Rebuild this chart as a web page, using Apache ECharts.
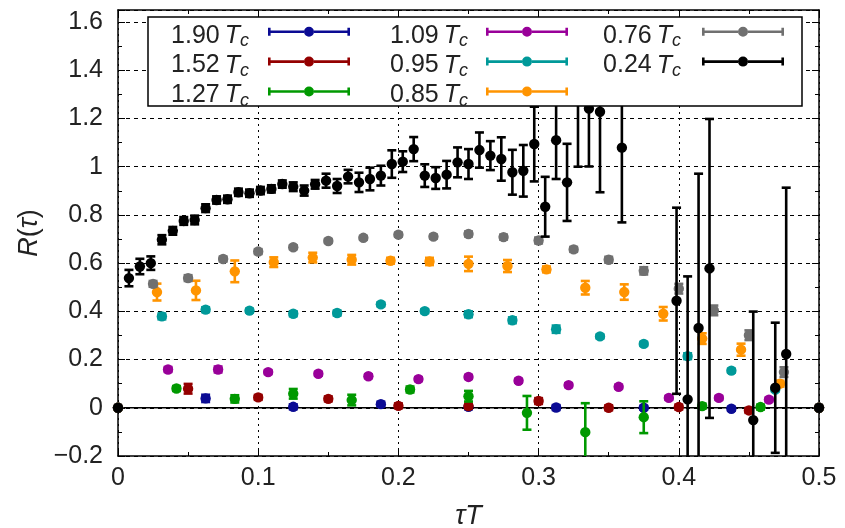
<!DOCTYPE html>
<html>
<head>
<meta charset="utf-8">
<script src="https://cdn.jsdelivr.net/npm/echarts@6/dist/echarts.min.js"></script>
<style>
  html, body { margin: 0; padding: 0; background: #fff; }
  #chart { width: 845px; height: 528px; }
</style>
</head>
<body>
<div id="chart"></div>
<script>
// R(tau) correlator ratio at several temperatures (T / Tc), with statistical errors.

// 1.90 Tc
const tau190 = [0, 0.0625, 0.125, 0.1875, 0.25, 0.3125, 0.375, 0.4375, 0.5];
const r190   = [0, 0.039, 0.004, 0.015, 0.004, 0.001, 0.000, -0.004, 0];
const e190   = [0, 0.015, 0.010, 0.010, 0.010, 0.010, 0.008, 0.008, 0];

// 1.52 Tc
const tau152 = [0, 0.05, 0.10, 0.15, 0.20, 0.25, 0.30, 0.35, 0.40, 0.45, 0.5];
const r152   = [0, 0.079, 0.043, 0.037, 0.008, 0.007, 0.028, 0.000, 0.003, -0.011, 0];
const e152   = [0, 0.020, 0.010, 0.010, 0.010, 0.010, 0.012, 0.010, 0.010, 0.010, 0];

// 1.27 Tc
const tau127 = [0, 0.0417, 0.0833, 0.125, 0.1667, 0.2083, 0.25, 0.2917, 0.3333, 0.375, 0.4167, 0.4583, 0.5];
const r127   = [0, 0.080, 0.037, 0.058, 0.032, 0.076, 0.048, -0.021, -0.101, -0.039, 0.007, 0.003, 0];
const e127   = [0, 0.010, 0.015, 0.020, 0.022, 0.012, 0.022, 0.070, 0.120, 0.066, 0.010, 0.010, 0];

// 1.09 Tc
const tau109 = [0, 0.0357, 0.0714, 0.1071, 0.1429, 0.1786, 0.2143, 0.25, 0.2857, 0.3214, 0.3571, 0.3929, 0.4286, 0.4643, 0.5];
const r109   = [0, 0.159, 0.159, 0.148, 0.141, 0.131, 0.119, 0.128, 0.112, 0.094, 0.087, 0.041, 0.041, 0.034, 0];
const e109   = [0, 0.010, 0.012, 0.008, 0.008, 0.008, 0.008, 0.008, 0.008, 0.008, 0.008, 0.008, 0.008, 0.008, 0];

// 0.95 Tc
const tau095 = [0, 0.0313, 0.0625, 0.0938, 0.125, 0.1563, 0.1875, 0.2188, 0.25, 0.2813, 0.3125, 0.3438, 0.375, 0.4063, 0.4375, 0.4688, 0.5];
const r095   = [0, 0.379, 0.407, 0.403, 0.390, 0.393, 0.429, 0.401, 0.388, 0.363, 0.326, 0.296, 0.265, 0.214, 0.154, 0.076, 0];
const e095   = [0, 0.012, 0.010, 0.008, 0.010, 0.010, 0.008, 0.008, 0.012, 0.012, 0.015, 0.008, 0.008, 0.012, 0.008, 0.008, 0];

// 0.85 Tc
const tau085 = [0, 0.0278, 0.0556, 0.0833, 0.1111, 0.1389, 0.1667, 0.1944, 0.2222, 0.25, 0.2778, 0.3056, 0.3333, 0.3611, 0.3889, 0.4167, 0.4444, 0.4722, 0.5];
const r085   = [0, 0.480, 0.487, 0.566, 0.604, 0.623, 0.614, 0.610, 0.607, 0.597, 0.588, 0.574, 0.498, 0.480, 0.390, 0.287, 0.241, 0.100, 0];
const e085   = [0, 0.035, 0.040, 0.045, 0.020, 0.020, 0.020, 0.012, 0.015, 0.030, 0.025, 0.012, 0.028, 0.032, 0.028, 0.022, 0.025, 0.012, 0];

// 0.76 Tc
const tau076 = [0, 0.025, 0.05, 0.075, 0.10, 0.125, 0.15, 0.175, 0.20, 0.225, 0.25, 0.275, 0.30, 0.325, 0.35, 0.375, 0.40, 0.425, 0.45, 0.475, 0.5];
const r076   = [0, 0.514, 0.538, 0.617, 0.648, 0.666, 0.692, 0.705, 0.718, 0.710, 0.721, 0.708, 0.694, 0.657, 0.614, 0.568, 0.494, 0.404, 0.301, 0.148, 0];
const e076   = [0, 0.012, 0.012, 0.010, 0.010, 0.008, 0.008, 0.008, 0.008, 0.008, 0.010, 0.010, 0.012, 0.010, 0.012, 0.015, 0.020, 0.020, 0.020, 0.020, 0];

// 0.24 Tc
const tau024 = [0, 0.0078, 0.0156, 0.0234, 0.0313, 0.0391, 0.0469, 0.0547, 0.0625, 0.0703, 0.0781,
                0.0859, 0.0938, 0.1016, 0.1094, 0.1172, 0.1250, 0.1328, 0.1406, 0.1484, 0.1563,
                0.1641, 0.1719, 0.1797, 0.1875, 0.1953, 0.2031, 0.2109, 0.2188, 0.2266, 0.2344,
                0.2422, 0.2500, 0.2578, 0.2656, 0.2734, 0.2813, 0.2891, 0.2969, 0.3047, 0.3125,
                0.3203, 0.3281, 0.3359, 0.3438, 0.3594, 0.3984, 0.4063, 0.4141, 0.4219, 0.4531,
                0.4688, 0.4766, 0.5];
const r024   = [0, 0.538, 0.586, 0.600, 0.697, 0.734, 0.775, 0.779, 0.828, 0.862, 0.865,
                0.894, 0.890, 0.901, 0.908, 0.928, 0.917, 0.901, 0.927, 0.942, 0.920,
                0.959, 0.935, 0.949, 0.963, 1.011, 1.021, 1.073, 0.963, 0.953, 0.967,
                1.018, 1.011, 1.069, 1.046, 1.032, 0.977, 0.983, 1.094, 0.834, 1.110,
                0.935, 1.300, 1.241, 1.228, 1.079, 0.444, 0.035, 0.331, 0.578, -0.051,
                0.083, 0.223, 0];
const e024   = [0, 0.034, 0.032, 0.028, 0.019, 0.016, 0.016, 0.018, 0.016, 0.015, 0.015,
                0.015, 0.015, 0.015, 0.015, 0.015, 0.018, 0.021, 0.018, 0.029, 0.029,
                0.028, 0.040, 0.047, 0.041, 0.057, 0.043, 0.050, 0.047, 0.045, 0.057,
                0.062, 0.062, 0.073, 0.060, 0.090, 0.093, 0.107, 0.155, 0.124, 0.161,
                0.160, 0.300, 0.240, 0.334, 0.310, 0.386, 0.510, 0.640, 0.620, 0.450,
                0.270, 0.690, 0];

// series names (temperature in units of Tc) and colours, in drawing order
const names  = ['1.90', '1.52', '1.27', '1.09', '0.95', '0.85', '0.76', '0.24'];
const colors = ['#0b0b94', '#940000', '#009900', '#990099', '#009999', '#ff9400', '#707070', '#000000'];
const taus   = [tau190, tau152, tau127, tau109, tau095, tau085, tau076, tau024];
const vals   = [r190, r152, r127, r109, r095, r085, r076, r024];
const errs   = [e190, e152, e127, e109, e095, e085, e076, e024];

// axis ranges
const X_MIN = 0, X_MAX = 0.5, X_STEP = 0.1;
const Y_MIN = -0.2, Y_MAX = 1.65, Y_STEP = 0.2;

const FONT = 'Liberation Sans';
const TEXT_COLOR = '#222';

// point with a vertical error bar; bars are cut at the plot frame
function makeRenderer(color) {
  return function (params, api) {
    const x = api.value(0), y = api.value(1), e = api.value(2);
    const c = api.coord([x, y]);
    const kids = [];
    const lw = 2.6, half = 4.5;
    if (e > 0) {
      const lo = Math.max(y - e, Y_MIN), hi = Math.min(y + e, Y_MAX);
      if (hi > lo) {
        const pl = api.coord([x, lo]), ph = api.coord([x, hi]);
        kids.push({ type: 'line', shape: { x1: c[0], y1: pl[1], x2: c[0], y2: ph[1] },
                    style: { stroke: color, lineWidth: lw } });
        if (y - e >= Y_MIN) {
          kids.push({ type: 'line', shape: { x1: c[0] - half, y1: pl[1], x2: c[0] + half, y2: pl[1] },
                      style: { stroke: color, lineWidth: lw } });
        }
        if (y + e <= Y_MAX) {
          kids.push({ type: 'line', shape: { x1: c[0] - half, y1: ph[1], x2: c[0] + half, y2: ph[1] },
                      style: { stroke: color, lineWidth: lw } });
        }
      }
    }
    if (y >= Y_MIN && y <= Y_MAX) {
      kids.push({ type: 'circle', shape: { cx: c[0], cy: c[1], r: 5.2 }, style: { fill: color } });
    }
    return { type: 'group', children: kids };
  };
}

const series = [{
  // R = 0 reference line
  type: 'line',
  data: [[X_MIN, 0], [X_MAX, 0]],
  symbol: 'none',
  silent: true,
  lineStyle: { color: '#000', width: 1.6 },
  z: 1
}];

names.forEach(function (name, i) {
  const data = taus[i].map(function (t, k) { return [t, vals[i][k], errs[i][k]]; });
  series.push({
    name: name,
    type: 'custom',
    renderItem: makeRenderer(colors[i]),
    data: data,
    encode: { x: 0, y: 1 },
    itemStyle: { color: colors[i] },
    color: colors[i],
    silent: true,
    z: 2 + i
  });
});

// legend layout: three columns, each with a caption block and an icon column
const legendCols = [['1.90', '1.52', '1.27'], ['1.09', '0.95', '0.85'], ['0.76', '0.24']];
const iconRight  = [350, 568, 784];     // right end of each icon column
const textRight  = [249, 468, 681];     // right end of each caption column
const rowY       = [31.7, 61.6, 91.4];  // row centres
const CAPTION_DY = 4;                   // optical centring of the captions on the icons

// legend icon: horizontal error bar with a dot (pieces kept apart so the fill stays solid)
const ICON = 'path://M0,1h2.6v8H0z M79.4,1H82v8h-2.6z M2.6,3.7H36v2.6H2.6z M46,3.7h33.4v2.6H46z ' +
             'M36,5a5,5 0 1,0 10,0a5,5 0 1,0 -10,0z';

function legendColumn(items, right) {
  return {
    data: items,
    orient: 'vertical',
    right: 845 - right,
    top: rowY[0] - 5,
    padding: 0,
    itemGap: rowY[1] - rowY[0] - 10,
    itemWidth: 82,
    itemHeight: 10,
    align: 'right',
    icon: ICON,
    selectedMode: false,
    z: 20,
    formatter: function () { return ''; },
    textStyle: { fontSize: 1, lineHeight: 1 }
  };
}

const captionRich = {
  n: { fontFamily: FONT, fontSize: 25, fill: TEXT_COLOR, lineHeight: 29 },
  t: { fontFamily: FONT, fontSize: 25, fill: TEXT_COLOR, fontStyle: 'italic', lineHeight: 29 },
  c: { fontFamily: FONT, fontSize: 18, fill: TEXT_COLOR, fontStyle: 'italic', lineHeight: 16, verticalAlign: 'bottom' }
};

const graphics = [{
  type: 'rect', z: 15, silent: true,
  shape: { x: 148, y: 17, width: 654, height: 89 },
  style: { fill: '#fff', stroke: '#000', lineWidth: 1.5 }
}];
legendCols.forEach(function (col, ci) {
  col.forEach(function (n, ri) {
    graphics.push({
      type: 'text', z: 25, silent: true,
      x: textRight[ci], y: rowY[ri] + CAPTION_DY,
      style: {
        text: '{n|' + n + '}{t|\u2009T}{c|c}',
        rich: captionRich,
        align: 'right', verticalAlign: 'middle',
        font: '25px "' + FONT + '"', fill: TEXT_COLOR
      }
    });
  });
});

function fmt(v) {
  const s = String(+v.toFixed(2));
  return v < 0 ? '\u2212' + s.slice(1) : s;
}

const frameLine = { show: true, onZero: false, lineStyle: { color: '#000', width: 1.5 } };
const ticks = { show: true, inside: true, length: 7, lineStyle: { color: '#000', width: 1 } };
const minor = { show: true, splitNumber: 2, length: 4, lineStyle: { color: '#000', width: 1 } };
const labelStyle = { fontFamily: FONT, fontSize: 25, color: TEXT_COLOR };

const option = {
  backgroundColor: '#fff',
  animation: false,
  grid: { left: 118, right: 26, top: 10, bottom: 72, outerBoundsMode: 'none', containLabel: false },
  xAxis: [{
    type: 'value', position: 'bottom', min: X_MIN, max: X_MAX, interval: X_STEP,
    axisLine: frameLine, axisTick: ticks, minorTick: minor,
    axisLabel: Object.assign({ margin: 10, formatter: fmt }, labelStyle),
    splitLine: { show: true, lineStyle: { color: '#000', width: 1, type: [2, 4] } },
    name: '\u03c4T', nameLocation: 'middle', nameGap: 47,
    nameTextStyle: { fontFamily: FONT, fontSize: 27, fontStyle: 'italic', color: TEXT_COLOR }
  }, {
    type: 'value', position: 'top', min: X_MIN, max: X_MAX, interval: X_STEP,
    axisLine: frameLine, axisTick: ticks, minorTick: minor,
    axisLabel: { show: false }, splitLine: { show: false }
  }],
  yAxis: [{
    type: 'value', position: 'left', min: Y_MIN, max: Y_MAX, interval: Y_STEP,
    axisLine: frameLine, axisTick: ticks, minorTick: minor,
    axisLabel: Object.assign({ margin: 15, formatter: fmt, showMaxLabel: false }, labelStyle),
    splitLine: { show: true, lineStyle: { color: '#000', width: 1, type: [4, 4] } },
    name: '{i|R}{u|(}{i|\u03c4}{u|)}', nameLocation: 'middle', nameGap: 74, nameRotate: 90,
    nameTextStyle: {
      rich: {
        i: { fontFamily: FONT, fontSize: 27, fontStyle: 'italic', color: TEXT_COLOR },
        u: { fontFamily: FONT, fontSize: 27, color: TEXT_COLOR }
      }
    }
  }, {
    type: 'value', position: 'right', min: Y_MIN, max: Y_MAX, interval: Y_STEP,
    axisLine: frameLine, axisTick: ticks, minorTick: minor,
    axisLabel: { show: false }, splitLine: { show: false }
  }],
  legend: legendCols.map(function (col, ci) { return legendColumn(col, iconRight[ci]); }),
  graphic: graphics,
  series: series
};

const chart = echarts.init(document.getElementById('chart'), null, { renderer: 'canvas' });
chart.setOption(option);
</script>
</body>
</html>
